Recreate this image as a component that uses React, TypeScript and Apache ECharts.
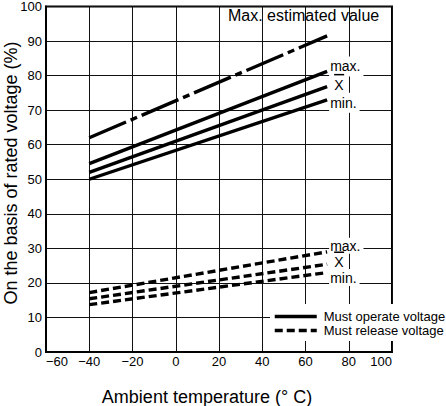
import React, { useEffect, useRef } from "react";
import * as echarts from "echarts";

const temps = [-40, 70];
const maxEstimated = [62, 91.5];
const operateMax = [54.5, 81.2];
const operateMean = [52, 76.8];
const operateMin = [50, 73.0];
const releaseMax = [17.2, 29];
const releaseMean = [15.4, 25.4];
const releaseMin = [13.7, 23];

const xTicks = { min: -60, max: 100, interval: 20 };
const yTicks = { min: 0, max: 100, interval: 10 };

const FONT = "'Liberation Sans', Arial, Helvetica, sans-serif";
const SOLID = "solid";
const DASHED = [8, 4];
const DASH_DOT = [40, 5, 7, 5];

const meanRich = {
  o: { backgroundColor: "#000", width: 10, height: 1.5, fontSize: 1, lineHeight: 4 },
  x: { fontSize: 14, lineHeight: 16, color: "#000", fontFamily: FONT },
};

function mk(
  name: string,
  ys: number[],
  type: any,
  text: string | null,
  offset: number[],
  bg: boolean,
  padding: number[] | number,
  rich?: any
) {
  return {
    type: "line",
    name,
    data: temps.map((t, i) => [t, ys[i]]),
    symbol: "none",
    silent: true,
    itemStyle: { color: "#000" },
    lineStyle: { color: "#000", width: 3.4, type, cap: "butt" },
    endLabel: text
      ? {
          show: true,
          formatter: text,
          distance: 2,
          offset,
          color: "#000",
          fontSize: 14,
          fontFamily: FONT,
          backgroundColor: bg ? "#fff" : "transparent",
          padding,
          rich,
        }
      : { show: false },
  };
}

export default function App() {
  const ref = useRef<HTMLDivElement>(null);
  useEffect(() => {
    if (!ref.current) return;
    const chart = echarts.init(ref.current, null, { renderer: "svg" });
    const op = "Must operate voltage";
    const rel = "Must release voltage";
    chart.setOption({
      animation: false,
      backgroundColor: "#fff",
      textStyle: { fontFamily: FONT, color: "#000" },
      grid: {
        left: 46,
        right: 54,
        top: 3,
        bottom: 54,
        show: true,
        borderColor: "#000",
        borderWidth: 2,
        backgroundColor: "transparent",
      },
      xAxis: {
        type: "value",
        ...xTicks,
        axisLine: { show: true, onZero: false, lineStyle: { color: "#000", width: 2 } },
        axisTick: { show: false },
        splitLine: { show: true, lineStyle: { color: "#111", width: 1 } },
        axisLabel: {
          color: "#000",
          fontSize: 13,
          margin: 3,
          fontFamily: FONT,
          alignMinLabel: "left",
          alignMaxLabel: "right",
          formatter: (v: number) => (v < 0 ? "\u2212" + Math.abs(v) : String(v)),
        },
      },
      yAxis: {
        type: "value",
        ...yTicks,
        axisLine: { show: true, onZero: false, lineStyle: { color: "#000", width: 2 } },
        axisTick: { show: false },
        splitLine: { show: true, lineStyle: { color: "#111", width: 1 } },
        axisLabel: { color: "#000", fontSize: 13, margin: 4, fontFamily: FONT },
      },
      legend: {
        data: [op, rel],
        left: 270,
        top: 304,
        orient: "vertical",
        backgroundColor: "#fff",
        padding: [6, 0, 4, 3],
        itemWidth: 42,
        itemHeight: 12,
        itemGap: 1,
        selectedMode: false,
        itemStyle: { opacity: 0 },
        lineStyle: { width: 3.5, color: "#000" },
        textStyle: { fontSize: 13, color: "#000", fontFamily: FONT, padding: [0, 0, 0, 2] },
      },
      graphic: [
        {
          type: "text",
          left: 228,
          top: 7,
          style: { text: "Max. estimated value", fontSize: 16, fontFamily: FONT, fill: "#000" },
        },
        {
          type: "text",
          x: 11,
          y: 173,
          rotation: Math.PI / 2,
          style: {
            text: "On the basis of rated voltage (%)",
            fontSize: 18,
            fontFamily: FONT,
            fill: "#000",
            align: "center",
            verticalAlign: "middle",
          },
        },
        {
          type: "text",
          x: 207,
          y: 397,
          style: {
            text: "Ambient temperature (\u00B0 C)",
            fontSize: 18,
            fontFamily: FONT,
            fill: "#000",
            align: "center",
            verticalAlign: "middle",
          },
        },
      ],
      series: [
        mk("Max. estimated value", maxEstimated, DASH_DOT, null, [0, 0], false, 0),
        mk(op, operateMax, SOLID, "max.", [0, -5], true, [2, 3, 4, 1]),
        mk(op, operateMean, SOLID, "{o| }\n{x|X}", [5, -4], false, 0, meanRich),
        mk(op, operateMin, SOLID, "min.", [0, 3], true, [3, 3, 3, 1]),
        mk(rel, releaseMax, DASHED, "max.", [0, -6], true, [1, 3, 1, 1]),
        mk(rel, releaseMean, DASHED, "{o| }\n{x|X}", [5, -4], false, 0, meanRich),
        mk(rel, releaseMin, DASHED, "min.", [0, 5], true, [1, 3, 2, 1]),
      ],
    });
    return () => chart.dispose();
  }, []);
  return (
    <div
      ref={ref}
      style={{ position: "absolute", left: 0, top: 0, width: 446, height: 406 }}
    />
  );
}
